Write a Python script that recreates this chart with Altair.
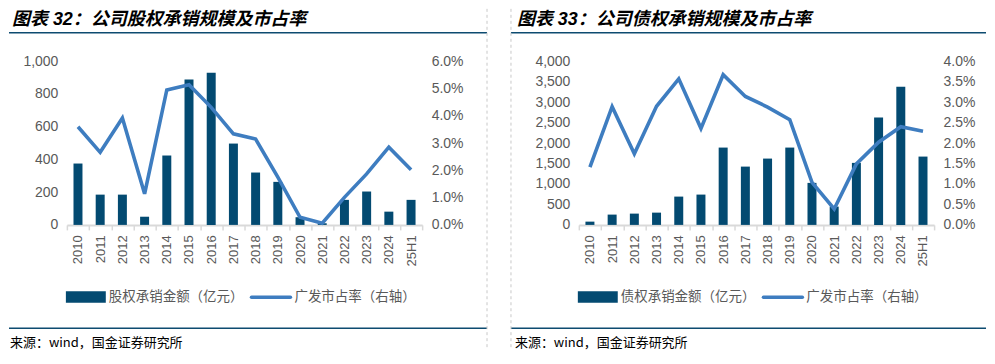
import altair as alt
import pandas as pd

categories = ["2010", "2011", "2012", "2013", "2014", "2015", "2016", "2017",
              "2018", "2019", "2020", "2021", "2022", "2023", "2024", "25H1"]

# 股权承销金额（亿元） and 广发市占率 (%)
equity_amount = [375, 185, 185, 50, 424, 888, 929, 497, 320, 263, 47, 10, 153, 204, 81, 153]
equity_share = [3.60, 2.66, 3.92, 1.14, 4.95, 5.14, 4.31, 3.34, 3.15, 1.75, 0.28, 0.06, 1.01, 1.87, 2.85, 2.02]

# 债权承销金额（亿元） and 广发市占率 (%)
bond_amount = [80, 252, 276, 300, 692, 741, 1890, 1425, 1621, 1890, 1027, 447, 1516, 2623, 3374, 1670]
bond_share = [1.41, 2.89, 1.74, 2.90, 3.57, 2.36, 3.67, 3.14, 2.88, 2.57, 1.04, 0.39, 1.49, 2.02, 2.40, 2.29]

left_ticks = [0, 200, 400, 600, 800, 1000]
left_pct_ticks = [0, 0.01, 0.02, 0.03, 0.04, 0.05, 0.06]
right_ticks = [0, 500, 1000, 1500, 2000, 2500, 3000, 3500, 4000]
right_pct_ticks = [0, 0.005, 0.01, 0.015, 0.02, 0.025, 0.03, 0.035, 0.04]

BAR = "#034A71"
LINE = "#3E7DC0"
RULE = "#0D4B70"
GRAY = "#595959"
NUM_FONT = "Liberation Sans"
CJK = "Noto Sans CJK SC"
TITLE_FONT = "Liberation Sans, Noto Sans CJK SC"
W, H = 356, 164


def one_row():
    return alt.Data(values=[{"k": 1}])


def panel(title, bar_name, amounts, shares, amt_ticks, pct_ticks,
          frame_left, frame_right, dash_x, text_x):
    df = pd.DataFrame({"cat": categories, "amt": amounts,
                       "share": [s / 100 for s in shares]})
    xenc = alt.X("cat:N", sort=categories,
                 scale=alt.Scale(paddingInner=0, paddingOuter=0),
                 axis=alt.Axis(title=None, labelAngle=-90, tickBand="extent",
                               domainColor="#D9D9D9", domainWidth=2,
                               tickColor="#D9D9D9", tickWidth=1.5, tickSize=5,
                               labelColor=GRAY, labelFont=NUM_FONT,
                               labelFontSize=13, labelPadding=5))
    base = alt.Chart(df).encode(x=xenc)
    bars = base.mark_bar(size=9, color=BAR).encode(
        y=alt.Y("amt:Q",
                scale=alt.Scale(domain=[amt_ticks[0], amt_ticks[-1]], nice=False),
                axis=alt.Axis(title=None, values=amt_ticks, format=",.0f",
                              domain=False, ticks=False, grid=False,
                              labelColor=GRAY, labelFont=NUM_FONT,
                              labelFontSize=14, labelPadding=9)))
    line = base.mark_line(color=LINE, strokeWidth=3.6).encode(
        y=alt.Y("share:Q",
                scale=alt.Scale(domain=[pct_ticks[0], pct_ticks[-1]], nice=False),
                axis=alt.Axis(title=None, orient="right", values=pct_ticks,
                              format=".1%", domain=False, ticks=False, grid=False,
                              labelColor=GRAY, labelFont=NUM_FONT,
                              labelFontSize=14, labelPadding=9)))

    title_text = alt.Chart(one_row()).mark_text(
        align="left", baseline="alphabetic", font=TITLE_FONT, fontSize=18,
        fontWeight="bold", fontStyle="italic", color="#000000").encode(
        x=alt.value(text_x + 2), y=alt.value(-36), text=alt.value(title))
    top_rule = alt.Chart(one_row()).mark_rule(color=RULE, strokeWidth=1.5).encode(
        x=alt.value(frame_left), x2=alt.value(frame_right), y=alt.value(-28.5))
    bottom_rule = alt.Chart(one_row()).mark_rule(color=RULE, strokeWidth=1.5).encode(
        x=alt.value(frame_left), x2=alt.value(frame_right), y=alt.value(267.5))
    dash = alt.Chart(one_row()).mark_rule(color="#C8C8C8", strokeWidth=1,
                                          strokeDash=[3, 3]).encode(
        x=alt.value(dash_x), y=alt.value(-52.5), y2=alt.value(289))
    leg_rect = alt.Chart(one_row()).mark_rect(color=BAR).encode(
        x=alt.value(-1), x2=alt.value(39), y=alt.value(230.5), y2=alt.value(242))
    leg_text1 = alt.Chart(one_row()).mark_text(
        align="left", baseline="middle", font=CJK, fontSize=13.5, color=GRAY).encode(
        x=alt.value(42), y=alt.value(236.5), text=alt.value(bar_name))
    leg_line = alt.Chart(one_row()).mark_rule(color=LINE, strokeWidth=3.5,
                                              strokeCap="round").encode(
        x=alt.value(185), x2=alt.value(224), y=alt.value(236.5))
    leg_text2 = alt.Chart(one_row()).mark_text(
        align="left", baseline="middle", font=CJK, fontSize=13.5, color=GRAY).encode(
        x=alt.value(228), y=alt.value(236.5), text=alt.value("广发市占率（右轴）"))
    source = alt.Chart(one_row()).mark_text(
        align="left", baseline="alphabetic", font=CJK, fontSize=13,
        color="#000000").encode(
        x=alt.value(text_x), y=alt.value(286.5), text=alt.value("来源：wind，国金证券研究所"))

    return alt.layer(bars, line, title_text, top_rule, bottom_rule, dash,
                     leg_rect, leg_text1, leg_line, leg_text2, source).resolve_scale(
        y="independent").properties(width=W, height=H)


left = panel("图表 32：公司股权承销规模及市占率", "股权承销金额（亿元）",
             equity_amount, equity_share, left_ticks, left_pct_ticks,
             -58, 421, 421, -57)
right = panel("图表 33：公司债权承销规模及市占率", "债权承销金额（亿元）",
              bond_amount, bond_share, right_ticks, right_pct_ticks,
              -68, 408, -68, -64)

chart = alt.hconcat(left, right, spacing=22).properties(
    padding=0, background="white").configure_view(stroke=None)

chart.save("out.html", embed_options={"renderer": "svg", "actions": False})
